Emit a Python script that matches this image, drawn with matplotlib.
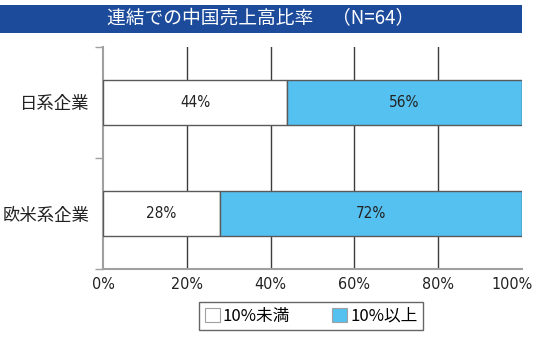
import matplotlib
matplotlib.use("Agg")
import matplotlib.pyplot as plt
import matplotlib.transforms as mtransforms
from matplotlib.font_manager import FontProperties, findfont
from matplotlib.patches import Rectangle

plt.rcParams["font.family"] = ["Noto Sans CJK JP", "DejaVu Sans"]

# Data
categories = ["欧米系企業", "日系企業"]
under_10 = [28, 44]
over_10 = [72, 56]
series_labels = ["10%未満", "10%以上"]
x_ticks = [0, 20, 40, 60, 80, 100]
x_tick_labels = [f"{t}%" for t in x_ticks]
title = "連結での中国売上高比率　（N=64）"

WHITE = "#ffffff"
BLUE = "#55c1f0"
EDGE = "#5a5a5a"
GRID = "#3c3c3c"
AXIS = "#a0a0a0"
TITLE_BG = "#1d4b9b"

print(findfont(FontProperties(family="DejaVu Sans", stretch="condensed")))
print(findfont(FontProperties(family="Liberation Sans Narrow")))
NUM = FontProperties(family="DejaVu Sans", stretch="condensed", size=11.5)

fig = plt.figure(figsize=(5.37, 3.42), dpi=100)
fig.patch.set_facecolor("white")

# Title bar
fig.patches.append(Rectangle((0, 1 - 33 / 342), 522 / 537, 28 / 342,
                             transform=fig.transFigure, facecolor=TITLE_BG,
                             edgecolor="none", zorder=0))
fig.text(0.5 * 522 / 537, 1 - 19 / 342, title, color="white", fontsize=13.5,
         ha="center", va="center")

ax = fig.add_axes([103 / 537, 1 - 269 / 342, 419 / 537, 222 / 342])

y = range(len(categories))
h = 0.4
ax.barh(y, under_10, height=h, color=WHITE, edgecolor=EDGE, linewidth=1, zorder=3)
ax.barh(y, over_10, left=under_10, height=h, color=BLUE, edgecolor=EDGE,
        linewidth=1, zorder=3)

for i in y:
    ax.text(under_10[i] / 2, i, f"{under_10[i]}%", ha="center", va="center",
            fontproperties=NUM, fontsize=11, color="#222222", zorder=4)
    ax.text(under_10[i] + over_10[i] / 2, i, f"{over_10[i]}%", ha="center",
            va="center", fontproperties=NUM, fontsize=11, color="#222222", zorder=4)

ax.set_xlim(0, 100)
ax.set_ylim(-0.5, 1.5)

# vertical gridlines at interior ticks
for t in x_ticks[1:-1]:
    ax.axvline(t, color=GRID, linewidth=1, zorder=1)

ax.set_xticks(x_ticks)
ax.set_xticklabels(x_tick_labels, fontproperties=NUM, color="#222222")
ax.tick_params(axis="x", length=0, pad=6)
last = ax.get_xticklabels()[-1]
last.set_transform(last.get_transform() +
                   mtransforms.ScaledTranslation(-0.1, 0, fig.dpi_scale_trans))

ax.set_yticks(list(y))
ax.set_yticklabels(categories, fontsize=12.5, color="#222222")
ax.set_yticks([-0.5, 0.5, 1.5], minor=True)
ax.tick_params(axis="y", which="major", length=0, pad=10)
ax.tick_params(axis="y", which="minor", length=6, color=AXIS, width=1)

for s in ["top", "right"]:
    ax.spines[s].set_visible(False)
for s in ["left", "bottom"]:
    ax.spines[s].set_color(AXIS)
    ax.spines[s].set_linewidth(1.5)

handles = [Rectangle((0, 0), 1, 1, facecolor=WHITE, edgecolor="#a0a0a0", linewidth=0.8),
           Rectangle((0, 0), 1, 1, facecolor=BLUE, edgecolor="#a0a0a0", linewidth=0.8)]
leg = fig.legend(handles, series_labels, loc="center",
                 bbox_to_anchor=(311 / 537, 1 - 316 / 342), ncol=2,
                 frameon=True, fancybox=False, fontsize=12,
                 handlelength=0.9, handleheight=0.9, handletextpad=0.2,
                 columnspacing=2.5, borderpad=0.35)
leg.get_frame().set_edgecolor("#404040")
leg.get_frame().set_linewidth(1)

fig.savefig("out.png", dpi=100)
